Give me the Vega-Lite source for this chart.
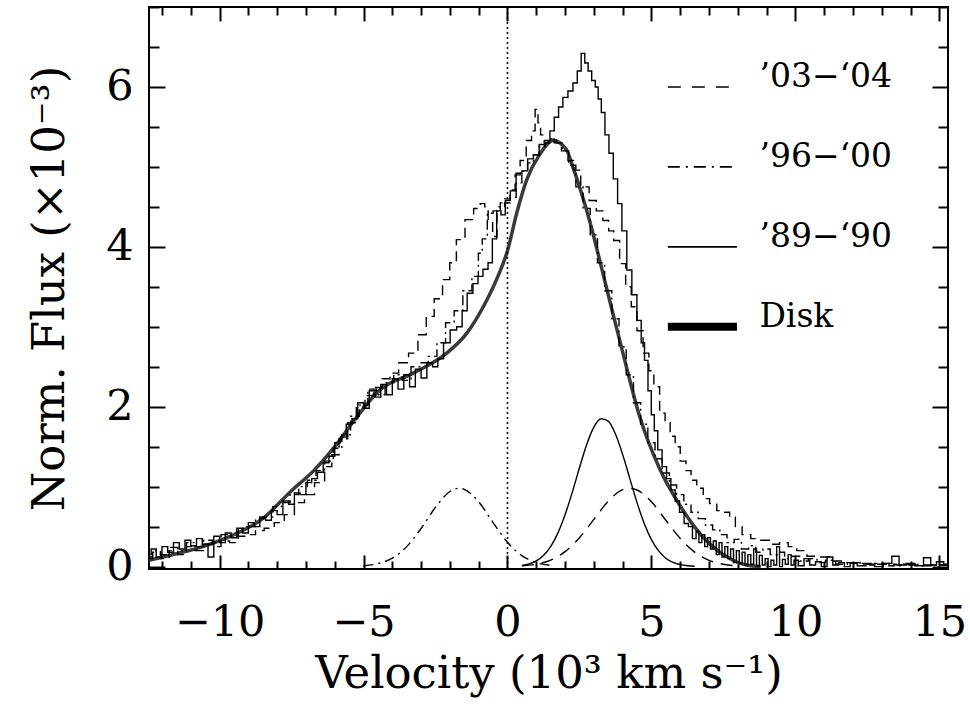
{
  "$schema": "https://vega.github.io/schema/vega-lite/v6.json",
  "width": 799,
  "height": 562,
  "autosize": {"type": "none"},
  "padding": {"left": 149, "top": 7, "right": 22, "bottom": 141},
  "background": "white",
  "config": {
    "view": {"stroke": "black", "strokeWidth": 2},
    "axis": {
      "domain": false,
      "grid": false,
      "tickColor": "black",
      "tickWidth": 2,
      "labelFont": "DejaVu Serif",
      "labelFontSize": 43,
      "labelColor": "black",
      "labelFlush": false,
      "labelOverlap": false,
      "titleFont": "DejaVu Serif",
      "titleFontSize": 45,
      "titleFontWeight": "normal",
      "titleColor": "black"
    }
  },
  "datasets": {
    "disk": [
      {"x": -12.45, "y": 0.08}, {"x": -11.5, "y": 0.16}, {"x": -10.5, "y": 0.26}, {"x": -9.5, "y": 0.4},
      {"x": -8.5, "y": 0.6}, {"x": -7.5, "y": 0.95}, {"x": -6.7, "y": 1.21}, {"x": -6.0, "y": 1.5},
      {"x": -5.3, "y": 1.84}, {"x": -4.43, "y": 2.21}, {"x": -3.27, "y": 2.42}, {"x": -2.11, "y": 2.67},
      {"x": -1.41, "y": 2.92}, {"x": -0.84, "y": 3.25}, {"x": -0.37, "y": 3.6}, {"x": 0.0, "y": 3.95},
      {"x": 0.32, "y": 4.42}, {"x": 0.67, "y": 4.84}, {"x": 1.11, "y": 5.15}, {"x": 1.58, "y": 5.33},
      {"x": 2.04, "y": 5.22}, {"x": 2.27, "y": 5.0}, {"x": 2.85, "y": 4.33}, {"x": 3.43, "y": 3.5},
      {"x": 4.01, "y": 2.67}, {"x": 4.59, "y": 1.88}, {"x": 5.29, "y": 1.22}, {"x": 5.98, "y": 0.77},
      {"x": 6.79, "y": 0.37}, {"x": 7.3, "y": 0.2}, {"x": 7.83, "y": 0.08}, {"x": 8.3, "y": 0.02},
      {"x": 8.8, "y": 0.0}
    ],
    "s89": [
      {"x": -12.45, "y": 0.15}, {"x": -12.3, "y": 0.22}, {"x": -12.1, "y": 0.12}, {"x": -11.9, "y": 0.25},
      {"x": -11.7, "y": 0.18}, {"x": -11.5, "y": 0.3}, {"x": -11.3, "y": 0.22}, {"x": -11.1, "y": 0.33},
      {"x": -10.9, "y": 0.26}, {"x": -10.7, "y": 0.35}, {"x": -10.5, "y": 0.28}, {"x": -10.3, "y": 0.12},
      {"x": -10.1, "y": 0.38}, {"x": -9.9, "y": 0.3}, {"x": -9.7, "y": 0.42}, {"x": -9.5, "y": 0.36},
      {"x": -9.3, "y": 0.48}, {"x": -9.1, "y": 0.42}, {"x": -8.9, "y": 0.55}, {"x": -8.7, "y": 0.5},
      {"x": -8.5, "y": 0.62}, {"x": -8.3, "y": 0.58}, {"x": -8.1, "y": 0.7}, {"x": -7.9, "y": 0.65},
      {"x": -7.7, "y": 0.82}, {"x": -7.5, "y": 0.78}, {"x": -7.3, "y": 0.92}, {"x": -7.1, "y": 0.9},
      {"x": -6.9, "y": 1.05}, {"x": -6.7, "y": 1.1}, {"x": -6.5, "y": 1.18}, {"x": -6.3, "y": 1.3},
      {"x": -6.1, "y": 1.38}, {"x": -5.9, "y": 1.55}, {"x": -5.7, "y": 1.62}, {"x": -5.5, "y": 1.78},
      {"x": -5.3, "y": 1.85}, {"x": -5.1, "y": 2.05}, {"x": -4.9, "y": 1.98}, {"x": -4.7, "y": 2.2},
      {"x": -4.5, "y": 2.12}, {"x": -4.3, "y": 2.28}, {"x": -4.1, "y": 2.15}, {"x": -3.9, "y": 2.35},
      {"x": -3.7, "y": 2.22}, {"x": -3.5, "y": 2.4}, {"x": -3.3, "y": 2.25}, {"x": -3.1, "y": 2.47},
      {"x": -2.9, "y": 2.36}, {"x": -2.7, "y": 2.55}, {"x": -2.5, "y": 2.5}, {"x": -2.34, "y": 2.6},
      {"x": -2.1, "y": 2.8}, {"x": -1.88, "y": 2.96}, {"x": -1.65, "y": 3.0}, {"x": -1.5, "y": 3.2},
      {"x": -1.3, "y": 3.42}, {"x": -1.1, "y": 3.54}, {"x": -0.95, "y": 3.63}, {"x": -0.75, "y": 3.72},
      {"x": -0.6, "y": 3.8}, {"x": -0.45, "y": 4.1}, {"x": -0.3, "y": 4.45}, {"x": -0.15, "y": 4.4},
      {"x": 0.0, "y": 4.58}, {"x": 0.2, "y": 4.7}, {"x": 0.4, "y": 4.92}, {"x": 0.6, "y": 4.95},
      {"x": 0.8, "y": 5.1}, {"x": 1.0, "y": 5.15}, {"x": 1.2, "y": 5.28}, {"x": 1.4, "y": 5.33},
      {"x": 1.55, "y": 5.45}, {"x": 1.7, "y": 5.62}, {"x": 1.85, "y": 5.75}, {"x": 2.0, "y": 5.87},
      {"x": 2.2, "y": 5.95}, {"x": 2.35, "y": 6.05}, {"x": 2.5, "y": 6.2}, {"x": 2.62, "y": 6.42},
      {"x": 2.75, "y": 6.3}, {"x": 2.85, "y": 6.2}, {"x": 3.0, "y": 6.08}, {"x": 3.1, "y": 6.0},
      {"x": 3.2, "y": 5.85}, {"x": 3.32, "y": 5.68}, {"x": 3.45, "y": 5.4}, {"x": 3.6, "y": 5.17},
      {"x": 3.75, "y": 4.85}, {"x": 3.9, "y": 4.54}, {"x": 4.05, "y": 4.2}, {"x": 4.24, "y": 3.71},
      {"x": 4.4, "y": 3.4}, {"x": 4.59, "y": 3.08}, {"x": 4.7, "y": 2.8}, {"x": 4.82, "y": 2.58},
      {"x": 4.94, "y": 2.2}, {"x": 5.05, "y": 1.9}, {"x": 5.15, "y": 1.7}, {"x": 5.29, "y": 1.46},
      {"x": 5.45, "y": 1.25}, {"x": 5.6, "y": 1.1}, {"x": 5.75, "y": 0.96}, {"x": 5.9, "y": 0.82},
      {"x": 6.05, "y": 0.68}, {"x": 6.22, "y": 0.54}, {"x": 6.35, "y": 0.5}, {"x": 6.5, "y": 0.35},
      {"x": 6.6, "y": 0.44}, {"x": 6.7, "y": 0.3}, {"x": 6.8, "y": 0.4}, {"x": 6.9, "y": 0.25},
      {"x": 7.0, "y": 0.36}, {"x": 7.1, "y": 0.22}, {"x": 7.2, "y": 0.32}, {"x": 7.3, "y": 0.15},
      {"x": 7.4, "y": 0.3}, {"x": 7.5, "y": 0.12}, {"x": 7.6, "y": 0.25}, {"x": 7.7, "y": 0.1},
      {"x": 7.8, "y": 0.22}, {"x": 7.9, "y": 0.05}, {"x": 8.0, "y": 0.2}, {"x": 8.1, "y": 0.04},
      {"x": 8.2, "y": 0.18}, {"x": 8.3, "y": 0.02}, {"x": 8.4, "y": 0.15}, {"x": 8.5, "y": 0.03},
      {"x": 8.6, "y": 0.22}, {"x": 8.7, "y": 0.01}, {"x": 8.8, "y": 0.14}, {"x": 8.9, "y": 0.02},
      {"x": 9.0, "y": 0.1}, {"x": 9.1, "y": 0.0}, {"x": 9.2, "y": 0.08}, {"x": 9.3, "y": 0.02},
      {"x": 9.4, "y": 0.25}, {"x": 9.5, "y": 0.0}, {"x": 9.6, "y": 0.09}, {"x": 9.7, "y": 0.03},
      {"x": 9.8, "y": 0.15}, {"x": 9.9, "y": 0.02}, {"x": 10.0, "y": 0.08}, {"x": 10.2, "y": 0.01},
      {"x": 10.4, "y": 0.1}, {"x": 10.6, "y": 0.02}, {"x": 10.8, "y": 0.06}, {"x": 11.0, "y": 0.0},
      {"x": 11.2, "y": 0.12}, {"x": 11.4, "y": 0.02}, {"x": 11.6, "y": 0.05}, {"x": 11.8, "y": 0.0},
      {"x": 12.0, "y": 0.04}, {"x": 12.3, "y": 0.01}, {"x": 12.6, "y": 0.03}, {"x": 12.9, "y": 0.0},
      {"x": 13.2, "y": 0.04}, {"x": 13.5, "y": 0.13}, {"x": 13.7, "y": 0.02}, {"x": 14.0, "y": 0.04},
      {"x": 14.3, "y": 0.01}, {"x": 14.6, "y": 0.11}, {"x": 14.8, "y": 0.02}, {"x": 15.0, "y": 0.06},
      {"x": 15.3, "y": 0.03}
    ],
    "s96": [
      {"x": -12.45, "y": 0.1}, {"x": -12.2, "y": 0.2}, {"x": -11.9, "y": 0.15}, {"x": -11.6, "y": 0.24},
      {"x": -11.3, "y": 0.2}, {"x": -11.0, "y": 0.3}, {"x": -10.7, "y": 0.25}, {"x": -10.4, "y": 0.33},
      {"x": -10.1, "y": 0.3}, {"x": -9.8, "y": 0.4}, {"x": -9.5, "y": 0.38}, {"x": -9.2, "y": 0.48},
      {"x": -8.9, "y": 0.5}, {"x": -8.6, "y": 0.6}, {"x": -8.3, "y": 0.62}, {"x": -8.0, "y": 0.75},
      {"x": -7.7, "y": 0.8}, {"x": -7.4, "y": 0.9}, {"x": -7.1, "y": 1.0}, {"x": -6.8, "y": 1.08},
      {"x": -6.5, "y": 1.2}, {"x": -6.2, "y": 1.32}, {"x": -5.9, "y": 1.48}, {"x": -5.6, "y": 1.65},
      {"x": -5.3, "y": 1.88}, {"x": -5.0, "y": 2.02}, {"x": -4.7, "y": 2.22}, {"x": -4.4, "y": 2.15},
      {"x": -4.1, "y": 2.3}, {"x": -3.8, "y": 2.4}, {"x": -3.5, "y": 2.33}, {"x": -3.2, "y": 2.5},
      {"x": -2.9, "y": 2.55}, {"x": -2.6, "y": 2.63}, {"x": -2.3, "y": 2.8}, {"x": -2.0, "y": 3.05},
      {"x": -1.7, "y": 3.2}, {"x": -1.4, "y": 3.45}, {"x": -1.07, "y": 3.63}, {"x": -0.95, "y": 3.92},
      {"x": -0.8, "y": 4.1}, {"x": -0.6, "y": 4.42}, {"x": -0.4, "y": 4.45}, {"x": -0.2, "y": 4.5},
      {"x": 0.0, "y": 4.55}, {"x": 0.2, "y": 4.62}, {"x": 0.4, "y": 4.8}, {"x": 0.6, "y": 4.95},
      {"x": 0.8, "y": 5.05}, {"x": 1.0, "y": 5.15}, {"x": 1.2, "y": 5.25}, {"x": 1.4, "y": 5.3},
      {"x": 1.6, "y": 5.35}, {"x": 1.8, "y": 5.3}, {"x": 2.0, "y": 5.2}, {"x": 2.25, "y": 5.02},
      {"x": 2.5, "y": 4.75}, {"x": 2.75, "y": 4.48}, {"x": 3.0, "y": 4.15}, {"x": 3.25, "y": 3.8},
      {"x": 3.5, "y": 3.45}, {"x": 3.75, "y": 3.1}, {"x": 4.0, "y": 2.75}, {"x": 4.25, "y": 2.4},
      {"x": 4.5, "y": 2.05}, {"x": 4.75, "y": 1.78}, {"x": 5.0, "y": 1.55}, {"x": 5.25, "y": 1.35},
      {"x": 5.5, "y": 1.17}, {"x": 5.75, "y": 1.02}, {"x": 6.0, "y": 0.9}, {"x": 6.25, "y": 0.78},
      {"x": 6.5, "y": 0.68}, {"x": 6.75, "y": 0.6}, {"x": 7.0, "y": 0.52}, {"x": 7.25, "y": 0.46},
      {"x": 7.5, "y": 0.4}, {"x": 7.75, "y": 0.3}, {"x": 8.0, "y": 0.34}, {"x": 8.25, "y": 0.22},
      {"x": 8.5, "y": 0.26}, {"x": 8.75, "y": 0.18}, {"x": 9.0, "y": 0.22}, {"x": 9.25, "y": 0.15},
      {"x": 9.5, "y": 0.18}, {"x": 9.75, "y": 0.1}, {"x": 10.0, "y": 0.13}, {"x": 10.3, "y": 0.07},
      {"x": 10.6, "y": 0.1}, {"x": 10.9, "y": 0.05}, {"x": 11.2, "y": 0.08}, {"x": 11.6, "y": 0.03},
      {"x": 12.0, "y": 0.05}, {"x": 12.5, "y": 0.02}, {"x": 13.0, "y": 0.04}, {"x": 13.5, "y": 0.01},
      {"x": 14.0, "y": 0.03}, {"x": 14.5, "y": 0.01}, {"x": 15.0, "y": 0.02}, {"x": 15.3, "y": 0.02}
    ],
    "s03": [
      {"x": -12.45, "y": 0.12}, {"x": -12.2, "y": 0.18}, {"x": -11.9, "y": 0.1}, {"x": -11.6, "y": 0.2},
      {"x": -11.3, "y": 0.15}, {"x": -11.0, "y": 0.25}, {"x": -10.7, "y": 0.2}, {"x": -10.4, "y": 0.28},
      {"x": -10.1, "y": 0.25}, {"x": -9.8, "y": 0.32}, {"x": -9.5, "y": 0.3}, {"x": -9.2, "y": 0.38},
      {"x": -8.9, "y": 0.4}, {"x": -8.6, "y": 0.45}, {"x": -8.3, "y": 0.48}, {"x": -7.9, "y": 0.55},
      {"x": -7.6, "y": 0.65}, {"x": -7.2, "y": 0.8}, {"x": -6.9, "y": 0.9}, {"x": -6.5, "y": 1.05},
      {"x": -6.2, "y": 1.25}, {"x": -6.0, "y": 1.4}, {"x": -5.7, "y": 1.6}, {"x": -5.4, "y": 1.8},
      {"x": -5.1, "y": 2.0}, {"x": -4.8, "y": 2.14}, {"x": -4.5, "y": 2.24}, {"x": -4.2, "y": 2.35},
      {"x": -3.96, "y": 2.42}, {"x": -3.6, "y": 2.55}, {"x": -3.27, "y": 2.67}, {"x": -2.95, "y": 2.9},
      {"x": -2.69, "y": 3.13}, {"x": -2.4, "y": 3.35}, {"x": -2.11, "y": 3.59}, {"x": -1.9, "y": 3.8},
      {"x": -1.65, "y": 4.09}, {"x": -1.3, "y": 4.34}, {"x": -1.05, "y": 4.48}, {"x": -0.84, "y": 4.54},
      {"x": -0.74, "y": 4.5}, {"x": -0.6, "y": 4.34}, {"x": -0.43, "y": 4.13}, {"x": -0.3, "y": 4.45},
      {"x": -0.2, "y": 4.55}, {"x": 0.0, "y": 4.6}, {"x": 0.18, "y": 4.71}, {"x": 0.35, "y": 4.9},
      {"x": 0.53, "y": 5.08}, {"x": 0.77, "y": 5.33}, {"x": 0.9, "y": 5.45}, {"x": 1.02, "y": 5.72},
      {"x": 1.1, "y": 5.55}, {"x": 1.2, "y": 5.4}, {"x": 1.35, "y": 5.3}, {"x": 1.5, "y": 5.35},
      {"x": 1.75, "y": 5.3}, {"x": 2.0, "y": 5.2}, {"x": 2.2, "y": 5.08}, {"x": 2.39, "y": 4.96},
      {"x": 2.7, "y": 4.75}, {"x": 2.97, "y": 4.58}, {"x": 3.2, "y": 4.45}, {"x": 3.43, "y": 4.33},
      {"x": 3.6, "y": 4.2}, {"x": 3.78, "y": 4.08}, {"x": 4.01, "y": 3.79}, {"x": 4.2, "y": 3.5},
      {"x": 4.4, "y": 3.25}, {"x": 4.6, "y": 2.95}, {"x": 4.82, "y": 2.67}, {"x": 5.0, "y": 2.45},
      {"x": 5.17, "y": 2.25}, {"x": 5.4, "y": 1.92}, {"x": 5.55, "y": 1.8}, {"x": 5.75, "y": 1.63},
      {"x": 5.9, "y": 1.5}, {"x": 6.1, "y": 1.32}, {"x": 6.3, "y": 1.2}, {"x": 6.45, "y": 1.08},
      {"x": 6.7, "y": 0.98}, {"x": 6.9, "y": 0.85}, {"x": 7.14, "y": 0.79}, {"x": 7.4, "y": 0.7},
      {"x": 7.6, "y": 0.68}, {"x": 7.83, "y": 0.62}, {"x": 8.0, "y": 0.5}, {"x": 8.3, "y": 0.4},
      {"x": 8.6, "y": 0.35}, {"x": 9.0, "y": 0.33}, {"x": 9.3, "y": 0.28}, {"x": 9.6, "y": 0.3},
      {"x": 9.9, "y": 0.25}, {"x": 10.2, "y": 0.2}, {"x": 10.6, "y": 0.13}, {"x": 11.0, "y": 0.12},
      {"x": 11.5, "y": 0.07}, {"x": 12.0, "y": 0.05}, {"x": 12.5, "y": 0.04}, {"x": 13.0, "y": 0.03},
      {"x": 14.0, "y": 0.02}, {"x": 15.3, "y": 0.02}
    ],
    "gsolid": [
      {"x": 0.5, "y": 0.015}, {"x": 0.75, "y": 0.034}, {"x": 1.0, "y": 0.072}, {"x": 1.25, "y": 0.139},
      {"x": 1.5, "y": 0.251}, {"x": 1.75, "y": 0.419}, {"x": 2.0, "y": 0.648}, {"x": 2.25, "y": 0.929},
      {"x": 2.5, "y": 1.236}, {"x": 2.75, "y": 1.525}, {"x": 3.0, "y": 1.744}, {"x": 3.25, "y": 1.849},
      {"x": 3.5, "y": 1.819}, {"x": 3.75, "y": 1.659}, {"x": 4.0, "y": 1.404}, {"x": 4.25, "y": 1.1},
      {"x": 4.5, "y": 0.8}, {"x": 4.75, "y": 0.54}, {"x": 5.0, "y": 0.338}, {"x": 5.25, "y": 0.196},
      {"x": 5.5, "y": 0.105}, {"x": 5.75, "y": 0.052}, {"x": 6.0, "y": 0.024}, {"x": 6.25, "y": 0.01},
      {"x": 6.5, "y": 0.004}
    ],
    "gdash": [
      {"x": 0.5, "y": 0.01}, {"x": 1.0, "y": 0.03}, {"x": 1.5, "y": 0.082}, {"x": 2.0, "y": 0.187},
      {"x": 2.5, "y": 0.361}, {"x": 3.0, "y": 0.59}, {"x": 3.5, "y": 0.818}, {"x": 4.0, "y": 0.962},
      {"x": 4.25, "y": 0.98}, {"x": 4.5, "y": 0.958}, {"x": 5.0, "y": 0.81}, {"x": 5.5, "y": 0.58},
      {"x": 6.0, "y": 0.352}, {"x": 6.5, "y": 0.181}, {"x": 7.0, "y": 0.079}, {"x": 7.5, "y": 0.029},
      {"x": 8.0, "y": 0.009}
    ],
    "gdashdot": [
      {"x": -5.0, "y": 0.01}, {"x": -4.5, "y": 0.037}, {"x": -4.0, "y": 0.106}, {"x": -3.5, "y": 0.25},
      {"x": -3.0, "y": 0.477}, {"x": -2.5, "y": 0.742}, {"x": -2.0, "y": 0.939}, {"x": -1.68, "y": 0.98},
      {"x": -1.5, "y": 0.967}, {"x": -1.0, "y": 0.81}, {"x": -0.5, "y": 0.551}, {"x": 0.0, "y": 0.305},
      {"x": 0.5, "y": 0.137}, {"x": 1.0, "y": 0.05}, {"x": 1.5, "y": 0.015}
    ],
    "legline": [
      {"k": "a", "x": 5.57, "x2": 7.97, "y": 6.0},
      {"k": "b", "x": 5.57, "x2": 7.97, "y": 5.0},
      {"k": "c", "x": 5.57, "x2": 7.97, "y": 4.0},
      {"k": "d", "x": 5.57, "x2": 7.97, "y": 3.0}
    ],
    "legtext": [
      {"x": 8.75, "y": 6.0, "t": "’03−‘04"},
      {"x": 8.75, "y": 5.0, "t": "’96−‘00"},
      {"x": 8.75, "y": 4.0, "t": "’89−‘90"},
      {"x": 8.75, "y": 3.0, "t": "Disk"}
    ]
  },
  "resolve": {"axis": {"x": "independent", "y": "independent"}},
  "layer": [
    {
      "data": {"name": "disk"},
      "mark": {"type": "line", "interpolate": "monotone", "color": "#3a3a3a", "strokeWidth": 3.5, "clip": true},
      "encoding": {
        "x": {
          "field": "x", "type": "quantitative",
          "scale": {"domain": [-12.45, 15.3], "nice": false, "zero": false},
          "axis": {
            "orient": "bottom",
            "values": [-12, -11, -10, -9, -8, -7, -6, -5, -4, -3, -2, -1, 0, 1, 2, 3, 4, 5, 6, 7, 8, 9, 10, 11, 12, 13, 14, 15],
            "tickSize": {"condition": {"test": "datum.value % 5 === 0", "value": -14}, "value": -8},
            "labelExpr": "datum.value % 5 === 0 ? datum.label : ''",
            "labelPadding": 46,
            "title": "Velocity (10³ km s⁻¹)",
            "titleBaseline": "alphabetic",
            "titleY": 118
          }
        },
        "y": {
          "field": "y", "type": "quantitative",
          "scale": {"domain": [-0.03, 7], "nice": false, "zero": false},
          "axis": {
            "orient": "left",
            "values": [0, 0.5, 1, 1.5, 2, 2.5, 3, 3.5, 4, 4.5, 5, 5.5, 6, 6.5, 7],
            "tickSize": {"condition": {"test": "datum.value % 2 === 0", "value": -16}, "value": -10},
            "labelExpr": "datum.value % 2 === 0 ? format(datum.value, 'd') : ''",
            "labelPadding": 32,
            "labelBaseline": "middle",
            "title": "Norm. Flux (×10⁻³)",
            "titleX": -77
          }
        }
      }
    },
    {
      "data": {"name": "s89"},
      "mark": {"type": "line", "interpolate": "step", "color": "black", "strokeWidth": 1.4, "clip": true},
      "encoding": {
        "x": {
          "field": "x", "type": "quantitative",
          "axis": {
            "orient": "top",
            "values": [-12, -11, -10, -9, -8, -7, -6, -5, -4, -3, -2, -1, 0, 1, 2, 3, 4, 5, 6, 7, 8, 9, 10, 11, 12, 13, 14, 15],
            "tickSize": {"condition": {"test": "datum.value % 5 === 0", "value": -14}, "value": -8},
            "labels": false,
            "title": null
          }
        },
        "y": {
          "field": "y", "type": "quantitative",
          "axis": {
            "orient": "right",
            "values": [0, 0.5, 1, 1.5, 2, 2.5, 3, 3.5, 4, 4.5, 5, 5.5, 6, 6.5, 7],
            "tickSize": {"condition": {"test": "datum.value % 2 === 0", "value": -16}, "value": -10},
            "labels": false,
            "title": null
          }
        }
      }
    },
    {
      "data": {"name": "s96"},
      "mark": {"type": "line", "interpolate": "step", "color": "black", "strokeWidth": 1.4, "strokeDash": [10, 4, 2, 4], "clip": true},
      "encoding": {
        "x": {"field": "x", "type": "quantitative", "axis": null},
        "y": {"field": "y", "type": "quantitative", "axis": null}
      }
    },
    {
      "data": {"name": "s03"},
      "mark": {"type": "line", "interpolate": "step", "color": "black", "strokeWidth": 1.4, "strokeDash": [10, 6], "clip": true},
      "encoding": {
        "x": {"field": "x", "type": "quantitative", "axis": null},
        "y": {"field": "y", "type": "quantitative", "axis": null}
      }
    },
    {
      "data": {"name": "gsolid"},
      "mark": {"type": "line", "interpolate": "monotone", "color": "black", "strokeWidth": 1.4},
      "encoding": {
        "x": {"field": "x", "type": "quantitative", "axis": null},
        "y": {"field": "y", "type": "quantitative", "axis": null}
      }
    },
    {
      "data": {"name": "gdash"},
      "mark": {"type": "line", "interpolate": "monotone", "color": "black", "strokeWidth": 1.4, "strokeDash": [12, 8]},
      "encoding": {
        "x": {"field": "x", "type": "quantitative", "axis": null},
        "y": {"field": "y", "type": "quantitative", "axis": null}
      }
    },
    {
      "data": {"name": "gdashdot"},
      "mark": {"type": "line", "interpolate": "monotone", "color": "black", "strokeWidth": 1.4, "strokeDash": [10, 5, 2, 5]},
      "encoding": {
        "x": {"field": "x", "type": "quantitative", "axis": null},
        "y": {"field": "y", "type": "quantitative", "axis": null}
      }
    },
    {
      "data": {"values": [{"x": 0}]},
      "mark": {"type": "rule", "color": "black", "strokeWidth": 1.5, "strokeDash": [2, 3]},
      "encoding": {
        "x": {"field": "x", "type": "quantitative", "axis": null}
      }
    },
    {
      "data": {"name": "legline"},
      "mark": {"type": "rule", "color": "black"},
      "encoding": {
        "x": {"field": "x", "type": "quantitative", "axis": null},
        "x2": {"field": "x2"},
        "y": {"field": "y", "type": "quantitative", "axis": null},
        "strokeDash": {"field": "k", "type": "nominal", "legend": null,
          "scale": {"domain": ["a", "b", "c", "d"], "range": [[13, 11], [12, 6, 2, 6], [1, 0], [1, 0]]}},
        "strokeWidth": {"field": "k", "type": "nominal", "legend": null,
          "scale": {"type": "ordinal", "domain": ["a", "b", "c", "d"], "range": [1.6, 1.6, 1.6, 8]}}
      }
    },
    {
      "data": {"name": "legtext"},
      "mark": {"type": "text", "align": "left", "baseline": "alphabetic", "font": "DejaVu Serif", "fontSize": 33, "color": "black"},
      "encoding": {
        "x": {"field": "x", "type": "quantitative", "axis": null},
        "y": {"field": "y", "type": "quantitative", "axis": null},
        "text": {"field": "t"}
      }
    }
  ]
}
